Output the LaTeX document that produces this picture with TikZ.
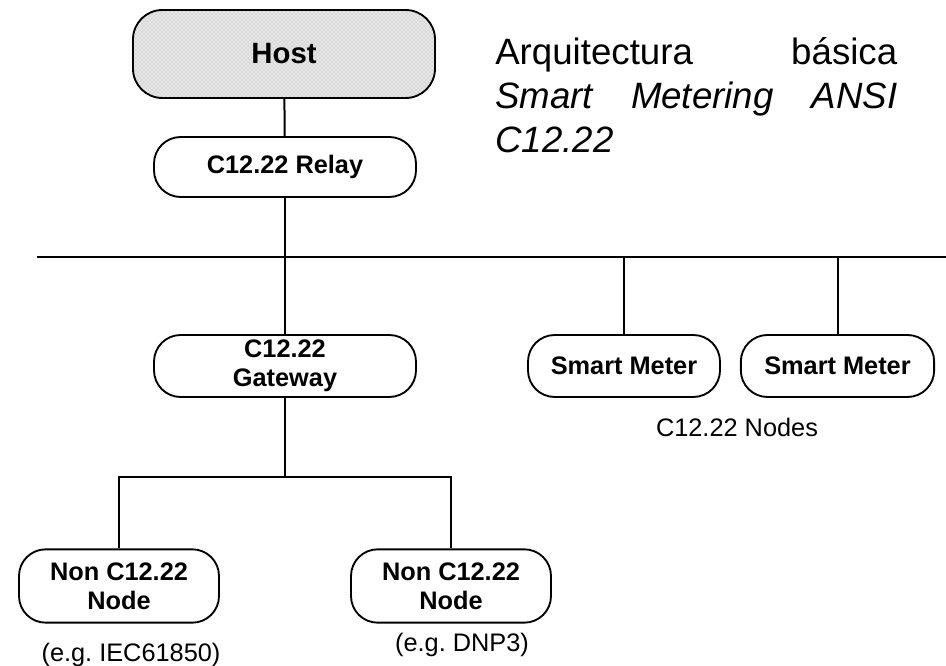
\documentclass[tikz,border=0pt]{standalone}
\usepackage{fontspec}
\setmainfont{Liberation Sans}
\usepackage{tikz}
\usetikzlibrary{patterns}
\frenchspacing

\tikzset{
    unit/.style={draw, line width=1.4pt, rounded corners=20pt, align=center,
        font=\bfseries\fontsize{19}{22}\selectfont, inner sep=0pt},
    note/.style={font=\fontsize{19}{22}\selectfont, inner sep=0pt},
    title/.style={font=\fontsize{27.5}{33}\selectfont, text width=301.5pt, align=left, inner sep=0pt},
    link/.style={line width=1.5pt}
}

\begin{document}
\begin{tikzpicture}[x=0.75pt, y=-0.75pt]
        \useasboundingbox (0,0) rectangle (946,666);

        \node[unit, minimum width=226.5pt, minimum height=66pt, rounded corners=22pt,
              preaction={fill=gray!18}, pattern=crosshatch dots, pattern color=gray!75,
              font=\bfseries\fontsize{22}{26}\selectfont] at (284, 54)   (host) {Host};
        \node[unit, minimum width=196.5pt, minimum height=45pt] at (285, 167)   (relay) {C12.22 Relay};
        \node[unit, minimum width=196.5pt, minimum height=46.5pt] at (285, 366)   (gateway) {C12.22\\Gateway};
        \node[unit, minimum width=144pt, minimum height=46.5pt] at (624, 366)   (meterA) {Smart Meter};
        \node[unit, minimum width=145pt, minimum height=46.5pt] at (837.5, 366)   (meterB) {Smart Meter};
        \node[unit, minimum width=150pt, minimum height=55pt] at (119, 586)   (nonA) {Non C12.22\\Node};
        \node[unit, minimum width=150pt, minimum height=55pt] at (451, 586)   (nonB) {Non C12.22\\Node};

        \node[note] at (737, 427)   (nodes) {C12.22 Nodes};
        \node[note] at (131, 655)   (egA) {(e.g. IEC61850)};
        \node[note] at (462, 645)   (egB) {(e.g. DNP3)};

        \node[title, anchor=base west] at (495, 65)   (titleA) {Arquitectura \hfill básica};
        \node[title, anchor=base west] at (495, 109)   (titleB) {\itshape Smart \hfill Metering \hfill ANSI};
        \node[title, anchor=base west] at (495, 153)   (titleC) {\itshape C12.22};

        \coordinate (busL) at (37, 257);
        \coordinate (busR) at (946, 257);
        \coordinate (fork) at (285, 477);

        \draw [line width=2.2pt] (busL) -- (busR);
        \draw [link] (host) -- (relay);
        \draw [link] (relay) -- (gateway);
        \draw [link] (meterA.north) -- (meterA.north |- busR);
        \draw [link] (meterB.north) -- (meterB.north |- busR);
        \draw [link] (gateway) -- (fork);
        \draw [link] (nonA.north) |- (fork) -| (nonB.north);
    \end{tikzpicture}
\end{document}
